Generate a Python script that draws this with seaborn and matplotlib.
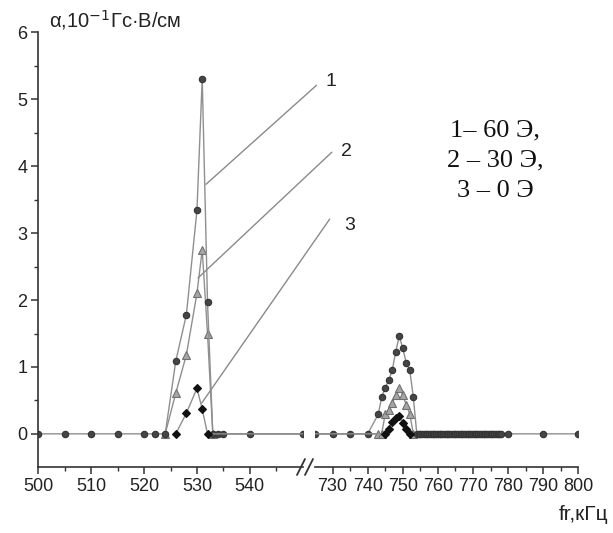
import matplotlib
matplotlib.use('Agg')
import matplotlib.pyplot as plt
from matplotlib.lines import Line2D
import seaborn as sns

# frequency (kHz) and alpha (10^-1 Gs*V/cm) for each bias field
f1 = [500, 505, 510, 515, 520, 522, 524, 526, 528, 530, 531, 532, 533, 534, 535, 540, 550,
      725, 730, 735, 740, 743, 744, 745, 746, 747, 748, 749, 750, 751, 752, 753,
      754, 754.5, 755, 755.5, 756, 756.5, 757, 757.5, 758, 758.5, 759, 759.5, 760, 760.5,
      761, 761.5, 762, 762.5, 763, 763.5, 764, 764.5, 765, 765.5, 766, 766.5, 767, 767.5,
      768, 768.5, 769, 769.5, 770, 770.5, 771, 771.5, 772, 772.5, 773, 773.5, 774, 774.5,
      775, 775.5, 776, 776.5, 777, 777.5, 778, 780, 790, 800]
a1 = [0, 0, 0, 0, 0, 0, 0, 1.09, 1.78, 3.34, 5.31, 1.97, 0, 0, 0, 0, 0,
      0, 0, 0, 0, 0.29, 0.55, 0.69, 0.8, 0.95, 1.23, 1.46, 1.28, 1.06, 0.95, 0.55,
      0, 0, 0, 0, 0, 0, 0, 0, 0, 0, 0, 0, 0, 0,
      0, 0, 0, 0, 0, 0, 0, 0, 0, 0, 0, 0, 0, 0,
      0, 0, 0, 0, 0, 0, 0, 0, 0, 0, 0, 0, 0, 0,
      0, 0, 0, 0, 0, 0, 0, 0, 0, 0]

f2 = [524, 526, 528, 530, 531, 532, 533,
      743, 744, 745, 746, 747, 748, 749, 750, 751, 752, 753]
a2 = [0, 0.61, 1.18, 2.1, 2.75, 1.5, 0,
      0, 0, 0.3, 0.35, 0.46, 0.58, 0.69, 0.58, 0.43, 0.3, 0]

f3 = [526, 528, 530, 531, 532,
      745, 746, 747, 748, 749, 750, 751, 752]
a3 = [0, 0.31, 0.68, 0.37, 0,
      0, 0.08, 0.18, 0.24, 0.27, 0.16, 0.08, 0]

left_ticks = [500, 510, 520, 530, 540]
left_minor = [505, 515, 525, 535, 545]
right_ticks = [730, 740, 750, 760, 770, 780, 790, 800]
right_minor = [735, 745, 755, 765, 775, 785, 795]
y_ticks = [0, 1, 2, 3, 4, 5, 6]
y_minor = [0.5, 1.5, 2.5, 3.5, 4.5, 5.5]

legend_lines = ['1\u2013 60 Э,', '2 \u2013 30 Э,', '3 \u2013 0 Э']

sns.set_style('ticks')
plt.rcParams['font.family'] = ['Liberation Sans', 'DejaVu Sans']

W, H = 613, 533
fig = plt.figure(figsize=(W / 100, H / 100), dpi=100)
ax1 = fig.add_axes([38.3 / W, 1 - 467.3 / H, 264.4 / W, 434.8 / H])
ax2 = fig.add_axes([315 / W, 1 - 467.3 / H, 263.3 / W, 434.8 / H])

line_col = '#8f8f8f'
# drawing order: 30 Oe (triangles) under 60 Oe (circles) under 0 Oe (diamonds)
styles = [
    (f2, a2, dict(marker='^', markersize=5.2, markerfacecolor='#a6a6a6', markeredgecolor='#707070')),
    (f1, a1, dict(marker='o', markersize=4.6, markerfacecolor='#454545', markeredgecolor='#333333')),
    (f3, a3, dict(marker='D', markersize=4.4, markerfacecolor='#111111', markeredgecolor='#111111')),
]

for ax in (ax1, ax2):
    ax.patch.set_visible(False)
    for fx, ay, kw in styles:
        sns.lineplot(x=fx, y=ay, ax=ax, color=line_col, linewidth=1.0,
                     estimator=None, sort=False, markeredgewidth=0.8, **kw)
    ax.set_ylim(-0.5, 6)
    ax.set_xlabel('')
    ax.set_ylabel('')
    for s in ['top', 'right']:
        ax.spines[s].set_visible(False)
    for s in ['left', 'bottom']:
        ax.spines[s].set_color('#333333')
        ax.spines[s].set_linewidth(1.2)
    ax.tick_params(which='major', direction='out', length=5, width=1.1,
                   color='#333333', labelsize=13, labelcolor='#222222', pad=3)
    ax.tick_params(which='minor', direction='out', length=3, width=1.0, color='#333333')

ax1.set_xlim(500, 550)
ax1.set_xticks(left_ticks)
ax1.set_xticks(left_minor, minor=True)
ax1.set_yticks(y_ticks)
ax1.set_yticks(y_minor, minor=True)
ax1.set_zorder(3)

ax2.set_xlim(725, 800)
ax2.set_xticks(right_ticks)
ax2.set_xticks(right_minor, minor=True)
ax2.spines['left'].set_visible(False)
ax2.set_yticks([])
ax2.tick_params(axis='y', which='both', left=False, labelleft=False)

# axis break marks
for x0 in (297, 305):
    fig.add_artist(Line2D([x0 / W, (x0 + 8) / W], [1 - 475 / H, 1 - 459 / H],
                          color='#333333', linewidth=1.3))

# curve labels with leader lines
leaders = [('1', (531.7, 3.73), (552.6, 5.21), (554.3, 5.27)),
           ('2', (530.2, 2.33), (555.5, 4.21), (557.2, 4.22)),
           ('3', (530.9, 0.46), (555.1, 3.21), (557.8, 3.12))]
for lab, p_end, p_start, p_lab in leaders:
    ax1.annotate('', xy=p_end, xytext=p_start, annotation_clip=False,
                 arrowprops=dict(arrowstyle='-', color='#8a8a8a', lw=1.0,
                                 shrinkA=0, shrinkB=0))
    ax1.text(p_lab[0], p_lab[1], lab, fontsize=14, ha='left', va='center',
             color='#222222', clip_on=False)

for i, txt in enumerate(legend_lines):
    fig.text(495 / W, 1 - (130 + 30.5 * i) / H, txt, ha='center', va='center',
             fontsize=19, family=['Liberation Serif', 'DejaVu Serif'], color='#111111')

fig.text(49 / W, 1 - 20 / H, 'α,10$^{-1}$Гс·В/см', ha='left', va='center',
         fontsize=14.5, color='#222222')
fig.text(608 / W, 1 - 515 / H, 'fr,кГц', ha='right', va='center',
         fontsize=15, color='#222222')

plt.savefig('out.png', dpi=100)
